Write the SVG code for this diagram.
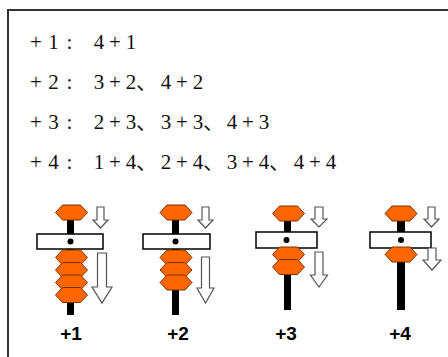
<svg xmlns="http://www.w3.org/2000/svg" width="448" height="357" viewBox="0 0 448 357">
  <style>
    .rule { font-family: "Liberation Serif", "Noto Sans CJK SC", serif; font-size: 21px; fill: #111; text-anchor: middle; }
    .tag { font-family: "Liberation Sans", Arial, sans-serif; font-size: 19px; font-weight: bold; fill: #000; text-anchor: middle; }
    .bead { fill: #FF6600; stroke: #7a3300; stroke-width: 1; }
    .rod { fill: #000; }
    .beam { fill: #fff; stroke: #000; stroke-width: 1.5; }
    .arrow { fill: #fff; stroke: #555; stroke-width: 1.2; stroke-linejoin: miter; }
  </style>
  <defs>
    <polygon id="bead" class="bead" points="-16,0 -9,-7.5 9,-7.5 16,0 9,7.5 -9,7.5"/>
  </defs>

  <!-- outer frame -->
  <rect x="8" y="10" width="460" height="360" fill="#fff" stroke="#333" stroke-width="2"/>

  <!-- rules -->
  <g id="rules">
    <text class="rule" x="36 53.5 69.5 85 99 115 131" y="49">+1: 4+1</text>
    <text class="rule" x="36 53.5 69.5 85 99 115 131 146.5 166 182 198" y="89">+2: 3+2、4+2</text>
    <text class="rule" x="36 53.5 69.5 85 99 115 131 146.5 166 182 198 213.5 232 248 264" y="129">+3: 2+3、3+3、4+3</text>
    <text class="rule" x="36 53.5 69.5 85 99 115 131 146.5 166 182 198 213.5 232 248 264 279.5 299 315 331" y="169">+4: 1+4、2+4、3+4、4+4</text>
  </g>

  <!-- rod +1 -->
  <g id="rod1">
    <rect class="rod" x="67" y="212" width="7" height="103"/>
    <use href="#bead" x="71.5" y="212.5"/>
    <rect class="beam" x="37" y="234" width="66" height="15"/>
    <circle cx="70.5" cy="241.5" r="3" fill="#000"/>
    <use href="#bead" x="71.5" y="257.5"/>
    <use href="#bead" x="71.5" y="270"/>
    <use href="#bead" x="71.5" y="282.5"/>
    <use href="#bead" x="71.5" y="295"/>
    <text class="tag" x="71" y="340">+1</text>
  </g>

  <!-- rod +2 -->
  <g id="rod2">
    <rect class="rod" x="172" y="212" width="7" height="103"/>
    <use href="#bead" x="176" y="212.5"/>
    <rect class="beam" x="143" y="234" width="67" height="15"/>
    <circle cx="175.5" cy="241.5" r="3" fill="#000"/>
    <use href="#bead" x="176" y="257.5"/>
    <use href="#bead" x="176" y="270"/>
    <use href="#bead" x="176" y="282.5"/>
    <text class="tag" x="178" y="340">+2</text>
  </g>

  <!-- rod +3 -->
  <g id="rod3">
    <rect class="rod" x="284" y="213" width="7" height="97"/>
    <use href="#bead" x="288.5" y="213.5"/>
    <rect class="beam" x="256" y="232" width="61" height="16"/>
    <circle cx="286.5" cy="240" r="3" fill="#000"/>
    <use href="#bead" x="288.5" y="254.5"/>
    <use href="#bead" x="288.5" y="267"/>
    <text class="tag" x="286" y="340">+3</text>
  </g>

  <!-- rod +4 -->
  <g id="rod4">
    <rect class="rod" x="397" y="213" width="8" height="97"/>
    <use href="#bead" x="401" y="213.5"/>
    <rect class="beam" x="370" y="232" width="61" height="16"/>
    <circle cx="401" cy="240" r="3" fill="#000"/>
    <use href="#bead" x="401" y="254.5"/>
    <text class="tag" x="400" y="340">+4</text>
  </g>

  <!-- movement arrows -->
  <g id="arrows">
    <polygon class="arrow" points="97,207 104,207 104,220 108,220 100.5,228 93,220 97,220"/>
    <polygon class="arrow" points="97.5,253 106.5,253 106.5,287 112,287 102,303 92,287 97.5,287"/>
    <polygon class="arrow" points="202,207 209,207 209,220 213,220 205.5,228 198,220 202,220"/>
    <polygon class="arrow" points="201.5,257 209.5,257 209.5,288 214,288 205.5,303 197,288 201.5,288"/>
    <polygon class="arrow" points="315,207 323,207 323,219 327,219 319,227 311,219 315,219"/>
    <polygon class="arrow" points="315,252 323,252 323,275 327.5,275 319,287 310.5,275 315,275"/>
    <polygon class="arrow" points="428,207 435,207 435,219 439,219 431.5,227 424,219 428,219"/>
    <polygon class="arrow" points="428,248 436,248 436,260 441,260 432,270 423,260 428,260"/>
  </g>
</svg>
